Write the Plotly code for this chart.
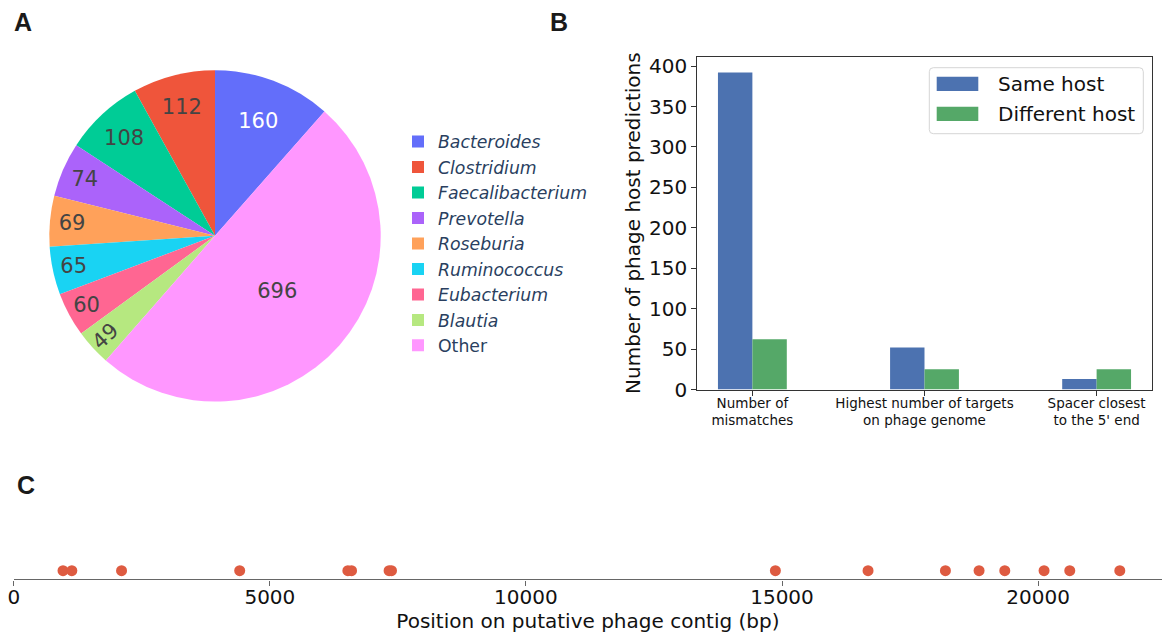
import plotly.graph_objects as go

W, H = 1162, 634

# ---------------- data ----------------
genus_labels = ["<i>Bacteroides</i>", "<i>Clostridium</i>", "<i>Faecalibacterium</i>",
                "<i>Prevotella</i>", "<i>Roseburia</i>", "<i>Ruminococcus</i>",
                "<i>Eubacterium</i>", "<i>Blautia</i>", "Other"]
genus_counts = [160, 112, 108, 74, 69, 65, 60, 49, 696]
genus_colors = ["#636efa", "#EF553B", "#00cc96", "#ab63fa", "#FFA15A",
                "#19d3f3", "#FF6692", "#B6E880", "#FF97FF"]

criteria = ["Number of<br>mismatches",
            "Highest number of targets<br>on phage genome",
            "Spacer closest<br>to the 5' end"]
same_host = [392, 52, 13]
different_host = [62, 25, 25]

positions = [961, 1133, 2104, 4411, 6523, 6595, 7328, 7375,
             14871, 16680, 18191, 18848, 19350, 20117, 20619, 21596]
position_ticks = [0, 5000, 10000, 15000, 20000]

# ---------------- helpers ----------------
def px(x):
    return x / W

def py(y):
    return 1 - y / H

DJ = "DejaVu Sans"

fig = go.Figure()

# Panel A: pie
fig.add_trace(go.Pie(
    labels=genus_labels, values=genus_counts, sort=False,
    direction="counterclockwise", rotation=0,
    marker=dict(colors=genus_colors, line=dict(width=0)),
    textinfo="value", textposition="inside",
    textfont=dict(family=DJ, size=21),
    domain=dict(x=[px(49.3), px(380.7)], y=[py(401.7), py(70)]),
    showlegend=True, legend="legend",
))

# Panel B: grouped bars
fig.add_trace(go.Bar(x=criteria, y=same_host, name="Same host",
                     marker=dict(color="#4C72B0", line=dict(width=0)),
                     xaxis="x", yaxis="y", showlegend=False))
fig.add_trace(go.Bar(x=criteria, y=different_host, name="Different host",
                     marker=dict(color="#55A868", line=dict(width=0)),
                     xaxis="x", yaxis="y", showlegend=False))

# Panel C: positions strip
fig.add_trace(go.Scatter(x=positions, y=[0] * len(positions), mode="markers",
                         marker=dict(size=11, color="#DE5B41", line=dict(width=0)),
                         xaxis="x2", yaxis="y2", showlegend=False))

axis_b = dict(showline=True, mirror=True, linecolor="#333333", linewidth=1.2,
              ticks="outside", ticklen=5, tickwidth=1.2, tickcolor="#333333",
              showgrid=False, zeroline=False)

fig.update_layout(
    width=W, height=H, autosize=False,
    margin=dict(l=0, r=0, t=0, b=0),
    template="none",
    paper_bgcolor="white", plot_bgcolor="white",
    barmode="group", bargap=0.6, bargroupgap=0,
    legend=dict(x=px(398), y=py(243.7), xanchor="left", yanchor="middle",
                font=dict(family=DJ, size=17.3, color="#2a3f5f"),
                bgcolor="rgba(0,0,0,0)", borderwidth=0),
    xaxis=dict(domain=[px(697.3), px(1151.7)], anchor="y", type="category",
               range=[-0.32, 2.32], ticklabelstandoff=-4,
               tickfont=dict(family=DJ, size=13.5, color="#111111"), **axis_b),
    yaxis=dict(domain=[py(389.5), py(56.7)], anchor="x", range=[0, 411.6],
               tickvals=[0, 50, 100, 150, 200, 250, 300, 350, 400],
               tickfont=dict(family=DJ, size=20, color="#111111"),
               title=dict(text="Number of phage host predictions",
                          font=dict(family=DJ, size=20, color="#111111"),
                          standoff=3),
               **axis_b),
    xaxis2=dict(domain=[px(13.8), 1.0], anchor="y2", range=[0, 22420],
                tickvals=position_ticks, tickformat="d", ticklabelstandoff=-6,
                showline=True, linecolor="#666666", linewidth=1.4,
                ticks="outside", ticklen=5, tickwidth=1.4, tickcolor="#666666",
                showgrid=False, zeroline=False,
                tickfont=dict(family=DJ, size=20, color="#111111"),
                title=dict(text="Position on putative phage contig (bp)",
                           font=dict(family=DJ, size=20, color="#111111"),
                           standoff=4)),
    yaxis2=dict(domain=[py(579.3), py(540)], anchor="x2", range=[-0.28, 1],
                visible=False, showgrid=False, zeroline=False),
)

# Manual legend for panel B (wide matplotlib-style swatches)
x0, y0, x1, y1, r = 929.3, 67.7, 1143.3, 133.7, 4
path = (f"M{px(x0+r)},{py(y0)} L{px(x1-r)},{py(y0)} Q{px(x1)},{py(y0)} {px(x1)},{py(y0+r)} "
        f"L{px(x1)},{py(y1-r)} Q{px(x1)},{py(y1)} {px(x1-r)},{py(y1)} "
        f"L{px(x0+r)},{py(y1)} Q{px(x0)},{py(y1)} {px(x0)},{py(y1-r)} "
        f"L{px(x0)},{py(y0+r)} Q{px(x0)},{py(y0)} {px(x0+r)},{py(y0)} Z")
fig.add_shape(type="path", path=path, xref="paper", yref="paper",
              line=dict(color="#d5d5d5", width=1), fillcolor="rgba(255,255,255,0.8)")
legend_b = [("Same host", "#4C72B0", 76.7, 91.0), ("Different host", "#55A868", 106.7, 121.0)]
for name, col, ya, yb in legend_b:
    fig.add_shape(type="rect", xref="paper", yref="paper",
                  x0=px(936.7), x1=px(978.3), y0=py(yb), y1=py(ya),
                  fillcolor=col, line=dict(width=0))
    fig.add_annotation(text=name, xref="paper", yref="paper",
                       x=px(996), y=py((ya + yb) / 2), xanchor="left", yanchor="middle",
                       showarrow=False, font=dict(family=DJ, size=20, color="#111111"))

# Panel letters
for letter, lx, ly in [("A", 11.7, 22), ("B", 548, 22), ("C", 15, 485)]:
    fig.add_annotation(text=f"<b>{letter}</b>", xref="paper", yref="paper",
                       x=px(lx), y=py(ly), xanchor="left", yanchor="middle",
                       showarrow=False,
                       font=dict(family="Liberation Sans", size=25, color="#1a1a1a"))

fig.write_html("out.html")
